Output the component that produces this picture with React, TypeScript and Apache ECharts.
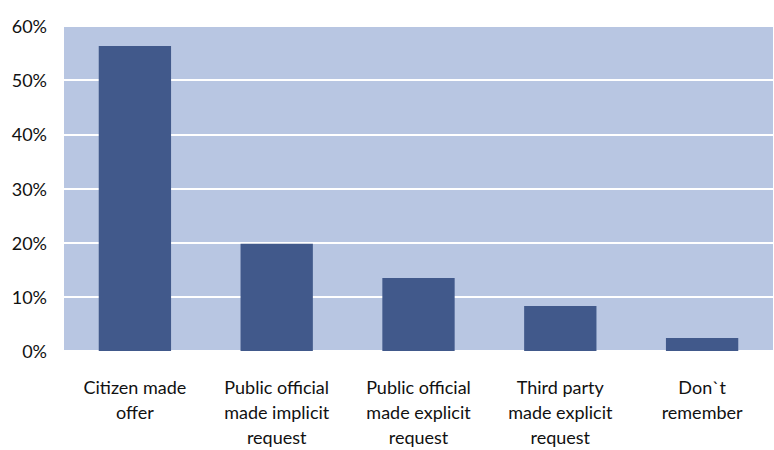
import React, { useEffect, useRef } from "react";
import * as echarts from "echarts";

const categories = [
  "Citizen made\noffer",
  "Public official\nmade implicit\nrequest",
  "Public official\nmade explicit\nrequest",
  "Third party\nmade explicit\nrequest",
  "Don`t\nremember",
];
const shares = [0.563, 0.198, 0.135, 0.083, 0.024];
const yTicks = { min: 0, max: 0.6, interval: 0.1 };

const FONT = "Lato, 'Open Sans', sans-serif";

export default function App() {
  const ref = useRef<HTMLDivElement>(null);

  useEffect(() => {
    if (!ref.current) return;
    const chart = echarts.init(ref.current, undefined, { renderer: "svg" });
    chart.setOption({
      animation: false,
      grid: {
        left: 64,
        right: 1,
        top: 26,
        bottom: 99,
        show: true,
        backgroundColor: "#b8c6e2",
        borderWidth: 0,
      },
      xAxis: {
        type: "category",
        data: categories,
        axisLine: { show: false },
        axisTick: { show: false },
        axisLabel: {
          interval: 0,
          margin: 23,
          fontFamily: FONT,
          fontSize: 18,
          lineHeight: 25,
          color: "#111",
        },
      },
      yAxis: {
        type: "value",
        min: yTicks.min,
        max: yTicks.max,
        interval: yTicks.interval,
        axisLine: { show: false },
        axisTick: { show: false },
        splitLine: { show: true, lineStyle: { color: "#ffffff", width: 2 } },
        axisLabel: {
          margin: 17,
          fontFamily: FONT,
          fontSize: 18,
          color: "#111",
          formatter: (v: number) => `${Math.round(v * 100)}%`,
        },
      },
      series: [
        {
          type: "bar",
          data: shares,
          barWidth: "51%",
          itemStyle: { color: "#41598b" },
        },
      ],
    });
    return () => chart.dispose();
  }, []);

  return (
    <div
      ref={ref}
      style={{ position: "fixed", left: 0, top: 0, width: 774, height: 450, background: "#fff" }}
    />
  );
}
